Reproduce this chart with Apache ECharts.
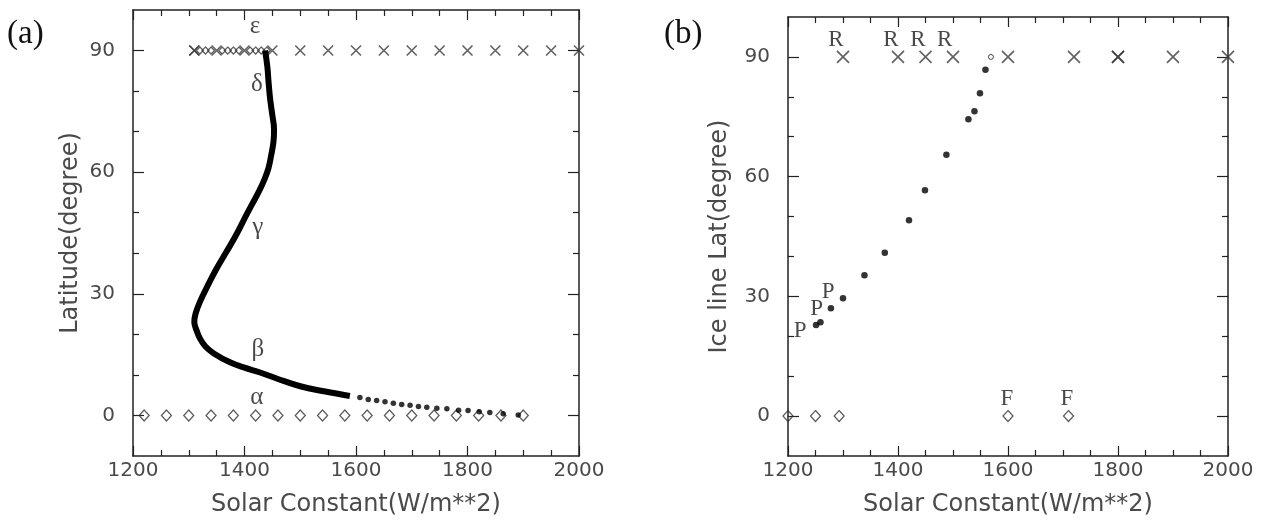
<!DOCTYPE html>
<html>
<head>
<meta charset="utf-8">
<script src="https://cdn.jsdelivr.net/npm/echarts@6/dist/echarts.min.js"></script>
<style>
html,body{margin:0;padding:0;background:#fff;}
#chart{width:1266px;height:522px;}
</style>
</head>
<body>
<div id="chart"></div>
<script>
// ---------- Panel (a) data ----------
const aCurveX = [1437,1441,1443,1446,1450,1453,1452,1448,1443,1436,1425,1412,1398,1383,1366,1349,1334,1320,1312,1310,1314,1320,1330,1345,1374,1400,1428,1460,1500,1545,1589];
const aCurveY = [90,86,82.5,78,74,70.6,67.5,64.3,61,58.3,55,51.7,48,44,40,36,32,28,25,23,21,19,17,15.3,13.1,11.8,10.6,9,7.2,5.9,4.8];
const aTailX = [1607,1622,1637,1652,1667,1682,1697,1712,1727,1745,1763,1784,1801,1821,1840,1864,1891];
const aTailY = [4.4,3.95,3.7,3.4,3.0,2.7,2.5,2.2,2.05,1.8,1.65,1.3,1.2,0.9,0.75,0.4,0.1];
const aDiamondX = [1220,1260,1300,1340,1380,1420,1460,1500,1540,1580,1620,1660,1700,1740,1780,1820,1860,1900];
const aCrossX = [1310,1310,1350,1400,1450,1500,1550,1600,1650,1700,1750,1800,1850,1900,1950,2000];
const aSmallDiamondX = [1320,1330,1340,1360,1370,1380,1390,1410,1420,1430,1440];
const aLabelText = ['ε','δ','γ','β','α'];
const aLabelX = [1419,1422,1424,1424,1422];
const aLabelY = [96,81.7,46.4,16.3,4.4];

// ---------- Panel (b) data ----------
const bCrossX = [1300,1400,1450,1500,1600,1720,1800,1800,1900,2000];
const bDotX = [1251,1259,1278,1300,1339,1376,1420,1449,1488,1528,1539,1549,1559];
const bDotY = [22.8,23.5,27,29.5,35.3,40.9,49.1,56.6,65.5,74.4,76.4,80.9,86.8];
const bOpenX = [1569];
const bOpenY = [90];
const bDiamondX = [1200,1250,1293,1600,1710];
const bLabelText = ['R','R','R','R','P','P','P','F','F'];
const bLabelX = [1287,1387,1436,1485,1222,1252,1273,1598,1707];
const bLabelY = [94.3,94.3,94.3,94.3,21.3,26.8,31,4.3,4.3];

// ---------- Axis ticks ----------
const xMin = 1200, xMax = 2000, xStep = 200;
const yMin = -10, yMax = 100;
const yMajor = [0,30,60,90];
const yMinor = [10,20,40,50,70,80];

const crossPath = 'path://M0,0L10,10M10,0L0,10';
const tickColor = '#222';
const labelColor = '#4a4a4a';
const sansFont = 'DejaVu Sans';
const serifFont = 'Liberation Serif';

function xAxes(grid, pos, withLabel, name) {
  return {
    gridIndex: grid, type: 'value', position: pos, min: xMin, max: xMax, interval: xStep,
    name: withLabel ? name : '', nameLocation: 'middle', nameGap: 37,
    nameTextStyle: {fontFamily: sansFont, fontSize: 24, color: labelColor},
    axisLine: {show: true, onZero: false, lineStyle: {color: tickColor, width: 1.5}},
    axisTick: {show: true, inside: true, length: 10, lineStyle: {color: tickColor, width: 1.2}},
    minorTick: {show: true, splitNumber: 4, length: 6, lineStyle: {color: tickColor, width: 1.2}},
    axisLabel: {show: withLabel, formatter: v => String(v), fontFamily: sansFont, fontSize: 20, color: labelColor, margin: 5},
    splitLine: {show: false}
  };
}
function yAxes(grid, pos, major, withLabel, name, gap) {
  return {
    gridIndex: grid, type: 'value', position: pos, min: yMin, max: yMax,
    name: withLabel ? name : '', nameLocation: 'middle', nameGap: gap,
    nameTextStyle: {fontFamily: sansFont, fontSize: 24, color: labelColor},
    axisLine: {show: major, onZero: false, lineStyle: {color: tickColor, width: 1.5}},
    axisTick: {show: true, inside: true, length: major ? 11 : 6, customValues: major ? yMajor : yMinor,
      lineStyle: {color: tickColor, width: 1.2}},
    axisLabel: {show: withLabel, customValues: yMajor, formatter: v => String(v), fontFamily: sansFont, fontSize: 20, color: labelColor, margin: 18},
    splitLine: {show: false}
  };
}

function labelSeries(xi, yi, texts, xs, ys, font, size) {
  return {
    type: 'scatter', xAxisIndex: xi, yAxisIndex: yi, symbolSize: 0, clip: false,
    data: texts.map((t, i) => ({name: t, value: [xs[i], ys[i]]})),
    label: {show: true, position: 'inside', formatter: p => p.name,
      fontFamily: font, fontSize: size, color: '#1a1a1a'},
    silent: true, z: 5
  };
}

const chart = echarts.init(document.getElementById('chart'), null, {renderer: 'canvas'});
const option = {
  animation: false,
  backgroundColor: '#fff',
  grid: [
    {left: 133, top: 10, width: 446, height: 447},
    {left: 788, top: 17, width: 440, height: 440}
  ],
  xAxis: [
    xAxes(0, 'bottom', true, 'Solar Constant(W/m**2)'),
    xAxes(0, 'top', false, ''),
    xAxes(1, 'bottom', true, 'Solar Constant(W/m**2)'),
    xAxes(1, 'top', false, '')
  ],
  yAxis: [
    yAxes(0, 'left', true, true, 'Latitude(degree)', 50),
    yAxes(0, 'left', false, false, '', 0),
    yAxes(0, 'right', true, false, '', 0),
    yAxes(0, 'right', false, false, '', 0),
    yAxes(1, 'left', true, true, 'Ice line Lat(degree)', 56),
    yAxes(1, 'left', false, false, '', 0),
    yAxes(1, 'right', true, false, '', 0),
    yAxes(1, 'right', false, false, '', 0)
  ],
  graphic: [
    {type: 'text', left: 7, top: 18, style: {text: '(a)', font: '33px "Liberation Serif"', fill: '#111'}},
    {type: 'text', left: 664, top: 18, style: {text: '(b)', font: '33px "Liberation Serif"', fill: '#111'}}
  ],
  series: [
    // Panel (a)
    {type: 'line', xAxisIndex: 0, yAxisIndex: 0, data: aCurveX.map((x, i) => [x, aCurveY[i]]),
      smooth: 0.4, showSymbol: false, lineStyle: {color: '#000', width: 6}, z: 3},
    {type: 'scatter', xAxisIndex: 0, yAxisIndex: 0, data: aTailX.map((x, i) => [x, aTailY[i]]),
      symbol: 'circle', symbolSize: 5.5, itemStyle: {color: '#000'}, z: 3},
    {type: 'scatter', xAxisIndex: 0, yAxisIndex: 0, data: aDiamondX.map(x => [x, 0]),
      symbol: 'diamond', symbolSize: [10, 11], itemStyle: {color: 'rgba(255,255,255,0)', borderColor: '#333', borderWidth: 1.3}, z: 2},
    {type: 'scatter', xAxisIndex: 0, yAxisIndex: 0, data: aSmallDiamondX.map(x => [x, 90]),
      symbol: 'diamond', symbolSize: [7, 7], itemStyle: {color: 'rgba(255,255,255,0)', borderColor: '#333', borderWidth: 1.2}, z: 2},
    {type: 'scatter', xAxisIndex: 0, yAxisIndex: 0, data: aCrossX.map(x => [x, 90]), clip: false,
      symbol: crossPath, symbolSize: 10, itemStyle: {color: 'rgba(0,0,0,0)', borderColor: '#3a3a3a', borderWidth: 1.6}, z: 2},
    labelSeries(0, 0, aLabelText, aLabelX, aLabelY, serifFont, 25),
    // Panel (b)
    {type: 'scatter', xAxisIndex: 2, yAxisIndex: 4, data: bCrossX.map(x => [x, 90]), clip: false,
      symbol: crossPath, symbolSize: 12, itemStyle: {color: 'rgba(0,0,0,0)', borderColor: '#3a3a3a', borderWidth: 1.6}, z: 2},
    {type: 'scatter', xAxisIndex: 2, yAxisIndex: 4, data: bDotX.map((x, i) => [x, bDotY[i]]),
      symbol: 'circle', symbolSize: 6.5, itemStyle: {color: '#000'}, z: 3},
    {type: 'scatter', xAxisIndex: 2, yAxisIndex: 4, data: bOpenX.map((x, i) => [x, bOpenY[i]]),
      symbol: 'circle', symbolSize: 5, itemStyle: {color: '#fff', borderColor: '#222', borderWidth: 1}, z: 3},
    {type: 'scatter', xAxisIndex: 2, yAxisIndex: 4, data: bDiamondX.map(x => [x, 0]), clip: false,
      symbol: 'diamond', symbolSize: [10, 11], itemStyle: {color: 'rgba(255,255,255,0)', borderColor: '#333', borderWidth: 1.3}, z: 2},
    labelSeries(2, 4, bLabelText, bLabelX, bLabelY, serifFont, 23)
  ]
};
chart.setOption(option);
</script>
</body>
</html>
